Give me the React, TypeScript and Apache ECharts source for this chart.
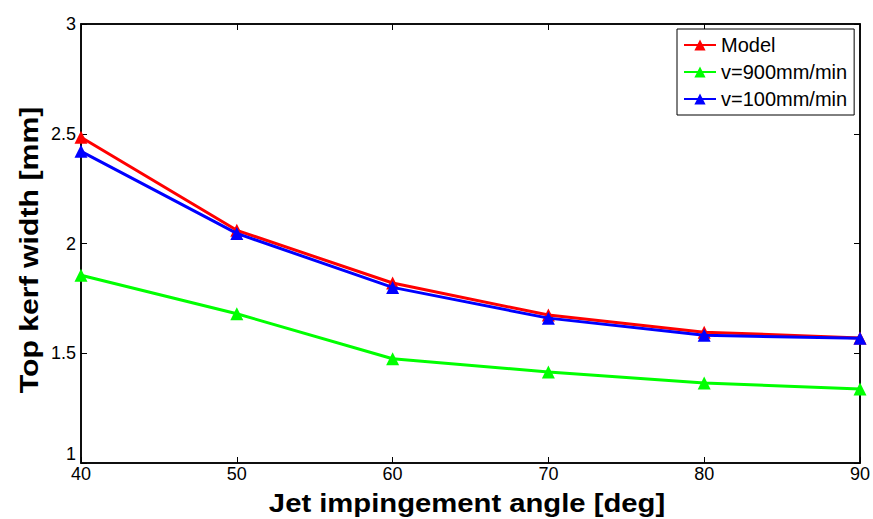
import React, { useEffect, useRef } from "react";
import * as echarts from "echarts";

const angles = [40, 50, 60, 70, 80, 90];
const modelValues = [2.484, 2.06, 1.82, 1.674, 1.596, 1.57];
const v900Values = [1.855, 1.68, 1.475, 1.415, 1.365, 1.337];
const v100Values = [2.42, 2.046, 1.8, 1.66, 1.582, 1.568];
const seriesNames = ["Model", "v=900mm/min", "v=100mm/min"];
const seriesColors = ["#ff0000", "#00ff00", "#0000ff"];
const xTitle = "Jet impingement angle [deg]";
const yTitle = "Top kerf width [mm]";

const FONT = "Liberation Sans, Arial, Helvetica, sans-serif";

export default function App() {
  const ref = useRef<HTMLDivElement>(null);
  useEffect(() => {
    if (!ref.current) return;
    const chart = echarts.init(ref.current, undefined, { renderer: "svg" });
    const toPairs = (vals: number[]) => angles.map((a, i) => [a, vals[i]]);
    const allData = [modelValues, v900Values, v100Values];
    const tickStyle = { show: true, inside: true, length: 6, lineStyle: { color: "#000", width: 1 } };
    chart.setOption({
      animation: false,
      backgroundColor: "#fff",
      textStyle: { fontFamily: FONT },
      grid: {
        left: 81,
        right: 13,
        top: 24,
        bottom: 56,
        show: true,
        borderColor: "#000",
        borderWidth: 1.5,
        outerBoundsMode: "none",
        containLabel: false,
      },
      legend: {
        left: 677,
        top: 29,
        orient: "vertical",
        backgroundColor: "#fff",
        borderColor: "#000",
        borderWidth: 1,
        borderRadius: 0,
        padding: [6, 7, 6, 6],
        itemGap: 7,
        itemWidth: 32,
        itemHeight: 14,
        textStyle: { fontSize: 20, color: "#000", fontFamily: FONT },
        data: seriesNames,
      },
      graphic: [
        {
          type: "text",
          x: 467,
          y: 503,
          scaleX: 1.17,
          style: {
            text: xTitle,
            font: "bold 25px " + FONT,
            fill: "#000",
            textAlign: "center",
            textVerticalAlign: "middle",
          },
        },
        {
          type: "text",
          x: 29,
          y: 250,
          rotation: Math.PI / 2,
          scaleX: 1.21,
          style: {
            text: yTitle,
            font: "bold 25px " + FONT,
            fill: "#000",
            textAlign: "center",
            textVerticalAlign: "middle",
          },
        },
      ],
      xAxis: [
        {
          type: "value",
          min: 40,
          max: 90,
          interval: 10,
          axisLine: { show: true, lineStyle: { color: "#000", width: 1.5 } },
          axisTick: tickStyle,
          axisLabel: { fontSize: 18, color: "#000", margin: 2, fontFamily: FONT },
          splitLine: { show: false },
        },
        {
          type: "value",
          position: "top",
          min: 40,
          max: 90,
          interval: 10,
          axisLine: { show: true, lineStyle: { color: "#000", width: 1.5 } },
          axisTick: tickStyle,
          axisLabel: { show: false },
          splitLine: { show: false },
        },
      ],
      yAxis: [
        {
          type: "value",
          min: 1,
          max: 3,
          interval: 0.5,
          axisLine: { show: true, lineStyle: { color: "#000", width: 1.5 } },
          axisTick: tickStyle,
          axisLabel: {
            fontSize: 18,
            color: "#000",
            margin: 5,
            fontFamily: FONT,
            formatter: (v: number) => (v === 1 ? "{low|1}" : String(v)),
            rich: { low: { fontSize: 18, color: "#000", fontFamily: FONT, lineHeight: 16, padding: [0, 0, 18, 0] } },
          },
          splitLine: { show: false },
        },
        {
          type: "value",
          position: "right",
          min: 1,
          max: 3,
          interval: 0.5,
          axisLine: { show: true, lineStyle: { color: "#000", width: 1.5 } },
          axisTick: tickStyle,
          axisLabel: { show: false },
          splitLine: { show: false },
        },
      ],
      series: seriesNames.map((name, i) => ({
        name,
        type: "line",
        data: toPairs(allData[i]),
        symbol: "triangle",
        symbolSize: 13,
        lineStyle: { color: seriesColors[i], width: 3 },
        itemStyle: { color: seriesColors[i] },
        z: i === 0 ? 2 : i === 2 ? 3 : 1,
      })),
    });
    return () => chart.dispose();
  }, []);
  return <div ref={ref} style={{ width: 873, height: 519, position: "absolute", left: 0, top: 0 }} />;
}
